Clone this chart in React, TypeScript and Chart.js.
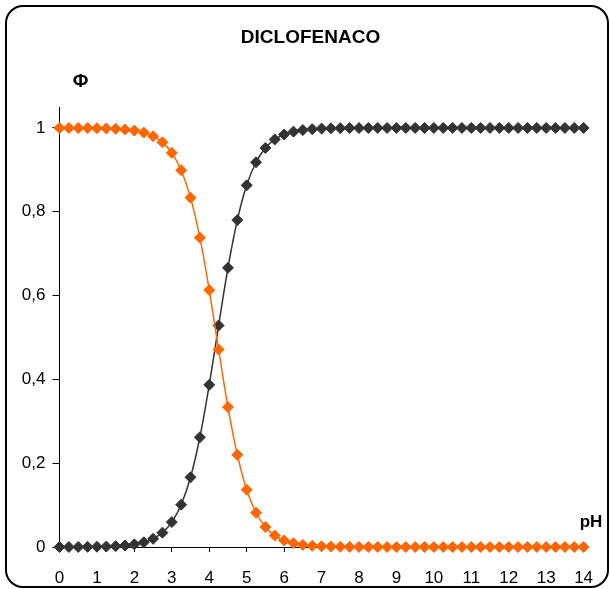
import React, { useEffect, useRef } from "react";
import { Chart, registerables } from "chart.js";

Chart.register(...registerables);

const pH = [
  0, 0.25, 0.5, 0.75, 1, 1.25, 1.5, 1.75, 2, 2.25, 2.5, 2.75, 3, 3.25, 3.5, 3.75,
  4, 4.25, 4.5, 4.75, 5, 5.25, 5.5, 5.75, 6, 6.25, 6.5, 6.75, 7, 7.25, 7.5, 7.75,
  8, 8.25, 8.5, 8.75, 9, 9.25, 9.5, 9.75, 10, 10.25, 10.5, 10.75, 11, 11.25, 11.5, 11.75,
  12, 12.25, 12.5, 12.75, 13, 13.25, 13.5, 13.75, 14,
];

// neutral form (orange)
const neutral = [
  0.9999, 0.9999, 0.9998, 0.9996, 0.9994, 0.9989, 0.998, 0.9965, 0.9937, 0.9889, 0.9804, 0.9657,
  0.9406, 0.8991, 0.8337, 0.7381, 0.6131, 0.4713, 0.3339, 0.2199, 0.1368, 0.0818, 0.0477, 0.0274,
  0.0156, 0.0088, 0.005, 0.0028, 0.0016, 0.0009, 0.0005, 0.0003, 0.0002, 0.0001, 0, 0,
  0, 0, 0, 0, 0, 0, 0, 0, 0, 0, 0, 0, 0, 0, 0, 0, 0, 0, 0, 0, 0,
];

// ionized form (dark)
const ionized = [
  0.0001, 0.0001, 0.0002, 0.0004, 0.0006, 0.0011, 0.002, 0.0035, 0.0063, 0.0111, 0.0196, 0.0343,
  0.0594, 0.1009, 0.1663, 0.2619, 0.3869, 0.5287, 0.6661, 0.7801, 0.8632, 0.9182, 0.9523, 0.9726,
  0.9844, 0.9912, 0.995, 0.9972, 0.9984, 0.9991, 0.9995, 0.9997, 0.9998, 0.9999, 1, 1,
  1, 1, 1, 1, 1, 1, 1, 1, 1, 1, 1, 1, 1, 1, 1, 1, 1, 1, 1, 1, 1,
];

const yTickLabels: Record<string, string> = {
  "0": "0",
  "0.2": "0,2",
  "0.4": "0,4",
  "0.6": "0,6",
  "0.8": "0,8",
  "1": "1",
};

const titleText = "DICLOFENACO";
const yAxisText = "Φ";
const xAxisText = "pH";

const FONT = '"Liberation Sans", Arial, sans-serif';

const textPlugin = {
  id: "textPlugin",
  afterDraw(chart: any) {
    const ctx = chart.ctx;
    ctx.save();
    ctx.fillStyle = "#000";
    ctx.textAlign = "center";
    ctx.textBaseline = "alphabetic";
    ctx.font = `bold 19px ${FONT}`;
    ctx.fillText(titleText, 310.5, 43);
    ctx.font = `bold 19px ${FONT}`;
    ctx.fillText(yAxisText, 80.5, 87);
    ctx.font = `bold 17px ${FONT}`;
    ctx.fillText(xAxisText, 591, 527);
    ctx.restore();
  },
};

export default function App() {
  const ref = useRef<HTMLCanvasElement | null>(null);

  useEffect(() => {
    if (!ref.current) return;
    const chart = new Chart(ref.current, {
      type: "line",
      data: {
        datasets: [
          {
            label: "neutral",
            data: pH.map((x, i) => ({ x, y: neutral[i] })),
            borderColor: "#FF6600",
            backgroundColor: "#FF6600",
            pointBackgroundColor: "#FF6600",
            pointBorderColor: "#FF6600",
            pointStyle: "rectRot",
            pointRadius: 5.5,
            pointBorderWidth: 1,
            borderWidth: 1.5,
            tension: 0.4,
            cubicInterpolationMode: "monotone",
            clip: false,
          },
          {
            label: "ionized",
            data: pH.map((x, i) => ({ x, y: ionized[i] })),
            borderColor: "#333333",
            backgroundColor: "#333333",
            pointBackgroundColor: "#333333",
            pointBorderColor: "#333333",
            pointStyle: "rectRot",
            pointRadius: 5.5,
            pointBorderWidth: 1,
            borderWidth: 1.5,
            tension: 0.4,
            cubicInterpolationMode: "monotone",
            clip: false,
          },
        ],
      },
      options: {
        responsive: false,
        animation: false,
        layout: { padding: { left: 0, right: 26.4, top: 107, bottom: 0 } },
        plugins: {
          legend: { display: false },
          title: { display: false },
          tooltip: { enabled: false },
        },
        scales: {
          x: {
            type: "linear",
            min: 0,
            max: 14,
            afterFit: (s: any) => {
              s.height = 42;
            },
            ticks: {
              stepSize: 1,
              color: "#000",
              font: { family: FONT, size: 17 },
              padding: 16,
              maxRotation: 0,
              autoSkip: false,
            },
            grid: {
              display: true,
              drawOnChartArea: false,
              drawTicks: true,
              tickLength: 5,
              color: "#000",
            },
            border: { display: true, color: "#000", width: 1 },
          },
          y: {
            type: "linear",
            min: 0,
            max: 1.05,
            afterFit: (s: any) => {
              s.width = 59.5;
            },
            afterBuildTicks: (s: any) => {
              s.ticks = s.ticks.filter((t: any) => t.value <= 1.0001);
            },
            ticks: {
              stepSize: 0.2,
              color: "#000",
              font: { family: FONT, size: 17 },
              padding: 7,
              callback: (v: any) => {
                const k = String(Math.round(Number(v) * 10) / 10);
                return yTickLabels[k] ?? "";
              },
            },
            grid: {
              display: true,
              drawOnChartArea: false,
              drawTicks: true,
              tickLength: 7,
              color: "#000",
            },
            border: { display: true, color: "#000", width: 1 },
          },
        },
      },
      plugins: [textPlugin],
    });
    return () => chart.destroy();
  }, []);

  return (
    <div
      style={{
        position: "fixed",
        left: 0,
        top: 0,
        width: 610,
        height: 589,
        background: "#fff",
      }}
    >
      <canvas
        ref={ref}
        width={610}
        height={589}
        style={{ position: "absolute", left: 0, top: 0, width: 610, height: 589 }}
      />
      <div
        style={{
          position: "absolute",
          left: 5,
          top: 5,
          width: 604,
          height: 583,
          boxSizing: "border-box",
          border: "2px solid #000",
          borderRadius: 18,
          pointerEvents: "none",
        }}
      />
    </div>
  );
}
